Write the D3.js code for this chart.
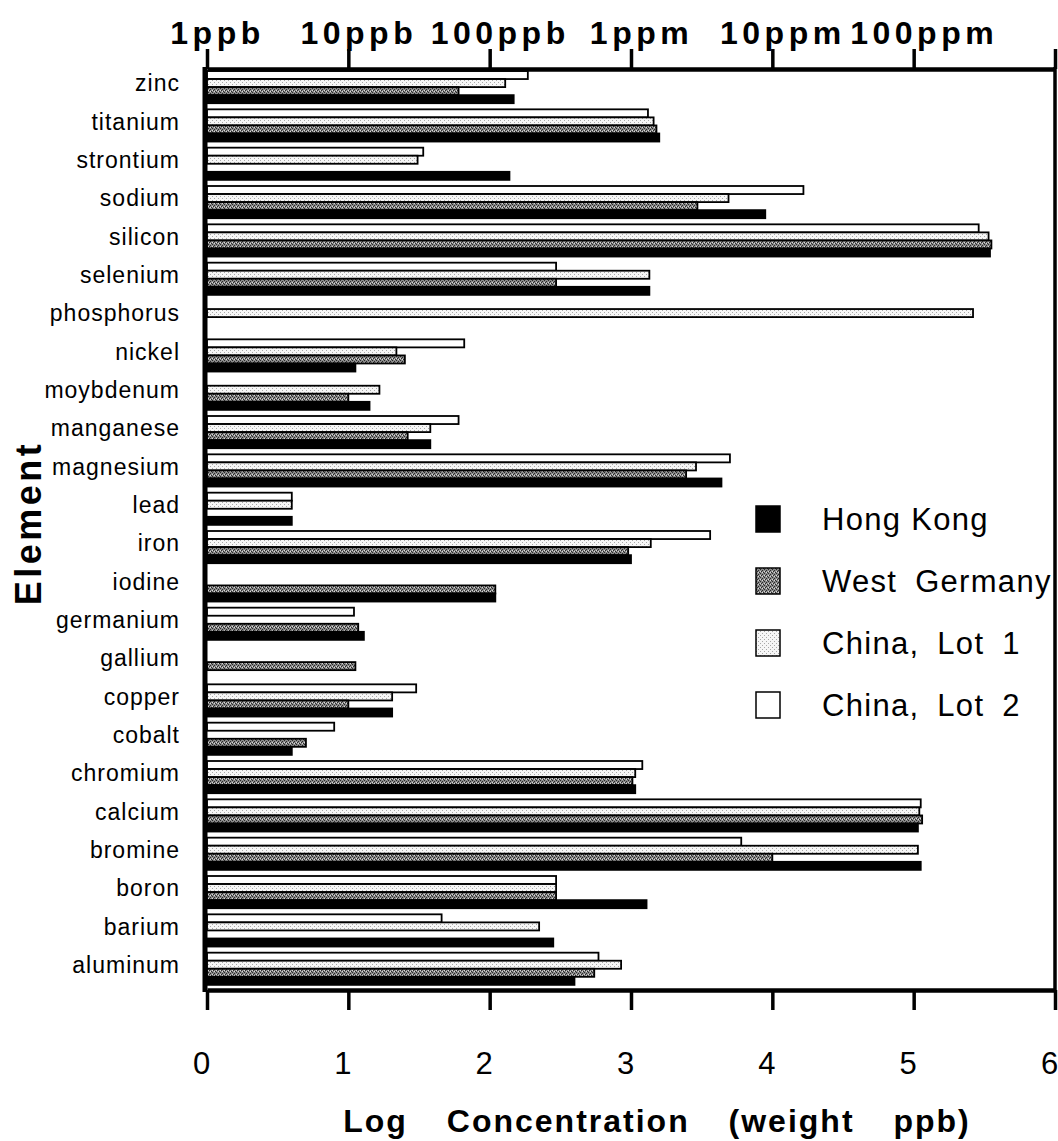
<!DOCTYPE html>
<html>
<head>
<meta charset="utf-8">
<script src="https://cdn.jsdelivr.net/npm/d3@7"></script>
<style>
  html, body { margin: 0; padding: 0; background: #fff; }
  svg { display: block; font-family: "Liberation Sans", Arial, Helvetica, sans-serif; }
</style>
</head>
<body>
<svg id="chart" width="1058" height="1141"></svg>
<script>
// ---------- data (log10 concentration, weight ppb) ----------
const categories = ["zinc","titanium","strontium","sodium","silicon","selenium","phosphorus","nickel","moybdenum","manganese","magnesium","lead","iron","iodine","germanium","gallium","copper","cobalt","chromium","calcium","bromine","boron","barium","aluminum"];

const chinaLot2   = [2.27, 3.12, 1.53, 4.22, 5.46, 2.47, null, 1.82, null, 1.78, 3.70, 0.60, 3.56, null, 1.04, null, 1.48, 0.90, 3.08, 5.05, 3.78, 2.47, 1.66, 2.77];
const chinaLot1   = [2.11, 3.16, 1.49, 3.69, 5.53, 3.13, 5.42, 1.34, 1.22, 1.58, 3.46, 0.60, 3.14, null, null, null, 1.31, null, 3.03, 5.04, 5.03, 2.47, 2.35, 2.93];
const westGermany = [1.78, 3.18, null, 3.47, 5.55, 2.47, null, 1.40, 1.00, 1.42, 3.39, null, 2.98, 2.04, 1.07, 1.05, 1.00, 0.70, 3.01, 5.06, 4.00, 2.47, null, 2.74];
const hongKong    = [2.17, 3.20, 2.14, 3.95, 5.54, 3.13, null, 1.05, 1.15, 1.58, 3.64, 0.60, 3.00, 2.04, 1.11, null, 1.31, 0.60, 3.03, 5.03, 5.05, 3.11, 2.45, 2.60];

const seriesNames   = ["China, Lot 2", "China, Lot 1", "West Germany", "Hong Kong"]; // top-to-bottom within each group
const seriesValues  = [chinaLot2, chinaLot1, westGermany, hongKong];
const legendOrder   = ["Hong Kong", "West Germany", "China, Lot 1", "China, Lot 2"];
const topTickLabels    = ["1ppb", "10ppb", "100ppb", "1ppm", "10ppm", "100ppm", ""];
const bottomTickLabels = ["0", "1", "2", "3", "4", "5", "6"];
const tickValues       = [0, 1, 2, 3, 4, 5, 6];

// ---------- setup ----------
const svg = d3.select("#chart");
const defs = svg.append("defs");

// stipple textures
const pWG = defs.append("pattern").attr("id", "pWG").attr("patternUnits", "userSpaceOnUse")
  .attr("width", 4).attr("height", 4);
pWG.append("rect").attr("width", 4).attr("height", 4).attr("fill", "#8a8a8a");
[[0,0],[2,1],[1,2],[3,3]].forEach(([a,b]) => pWG.append("rect").attr("x", a).attr("y", b).attr("width", 1).attr("height", 1).attr("fill", "#2a2a2a"));
[[2,3],[0,2]].forEach(([a,b]) => pWG.append("rect").attr("x", a).attr("y", b).attr("width", 1).attr("height", 1).attr("fill", "#d8d8d8"));

const pL1 = defs.append("pattern").attr("id", "pL1").attr("patternUnits", "userSpaceOnUse")
  .attr("width", 4).attr("height", 4);
pL1.append("rect").attr("width", 4).attr("height", 4).attr("fill", "#f6f6f6");
[[0,0],[2,2]].forEach(([a,b]) => pL1.append("rect").attr("x", a).attr("y", b).attr("width", 1).attr("height", 1).attr("fill", "#a8a8a8"));

const fills = {
  "China, Lot 2": "#ffffff",
  "China, Lot 1": "url(#pL1)",
  "West Germany": "url(#pWG)",
  "Hong Kong": "#000000"
};

// ---------- scales ----------
const x = d3.scaleLinear().domain([0, 6]).range([207, 1055]);
const yTop = 71, yBottom = 991;
const y = d3.scaleBand().domain(categories).range([yTop, yBottom])
  .paddingInner(0.16).paddingOuter(0.08).align(0);
const ySub = d3.scaleBand().domain(seriesNames).range([0, y.bandwidth()]).padding(0);

// ---------- bars ----------
const rows = [];
categories.forEach((c, i) => {
  seriesNames.forEach((s, j) => {
    const v = seriesValues[j][i];
    if (v != null) rows.push({ cat: c, series: s, value: v });
  });
});

svg.append("g").selectAll("rect")
  .data(rows)
  .join("rect")
  .attr("x", x(0))
  .attr("y", d => y(d.cat) + ySub(d.series))
  .attr("width", d => x(d.value) - x(0))
  .attr("height", ySub.bandwidth())
  .attr("fill", d => fills[d.series])
  .attr("stroke", "#000")
  .attr("stroke-width", 1.8);

// ---------- axes ----------
const frameTop = 69, frameBottom = 990;

const topAxis = d3.axisTop(x).tickValues(tickValues).tickSize(20).tickSizeOuter(0).tickPadding(5)
  .tickFormat((d, i) => topTickLabels[i]);
const gTop = svg.append("g").attr("transform", `translate(0,${frameTop})`).call(topAxis);
gTop.select(".domain").attr("stroke-width", 4.5);
gTop.selectAll(".tick line").attr("stroke-width", 3.5);
gTop.selectAll(".tick text")
  .attr("font-size", 32).attr("font-weight", "bold").attr("letter-spacing", 4.5)
  .attr("dx", 10).attr("fill", "#000");

const bottomAxis = d3.axisBottom(x).tickValues(tickValues).tickSize(20).tickSizeOuter(0).tickPadding(42)
  .tickFormat((d, i) => bottomTickLabels[i]);
const gBot = svg.append("g").attr("transform", `translate(0,${frameBottom})`).call(bottomAxis);
gBot.select(".domain").attr("stroke-width", 4.5);
gBot.selectAll(".tick line").attr("stroke-width", 3.5);
gBot.selectAll(".tick text")
  .attr("font-size", 31).attr("dx", -6).attr("fill", "#000");

// left frame line
svg.append("line").attr("x1", x(0) - 2).attr("x2", x(0) - 2)
  .attr("y1", frameTop - 2).attr("y2", frameBottom + 2)
  .attr("stroke", "#000").attr("stroke-width", 5);

// category axis
const leftAxis = d3.axisLeft(y).tickSize(0).tickPadding(25);
const gLeft = svg.append("g").attr("transform", `translate(${x(0) - 2},-3)`).call(leftAxis);
gLeft.select(".domain").remove();
gLeft.selectAll(".tick text").attr("font-size", 23).attr("letter-spacing", 1).attr("fill", "#000");

// axis titles
svg.append("text")
  .attr("transform", "translate(41,523) rotate(-90)")
  .attr("text-anchor", "middle")
  .attr("font-size", 36).attr("font-weight", "bold").attr("letter-spacing", 3.5)
  .text("Element");

svg.append("text")
  .attr("x", 657).attr("y", 1132)
  .attr("text-anchor", "middle")
  .attr("font-size", 32).attr("font-weight", "bold")
  .attr("letter-spacing", 2).attr("word-spacing", 28)
  .text("Log Concentration (weight ppb)");

// ---------- legend ----------
const legendY = d3.scalePoint().domain(legendOrder).range([519, 705]);
const gLeg = svg.append("g");
const li = gLeg.selectAll("g").data(legendOrder).join("g")
  .attr("transform", d => `translate(0,${legendY(d)})`);
li.append("rect")
  .attr("x", 756).attr("y", -13).attr("width", 24).attr("height", 26)
  .attr("fill", d => fills[d]).attr("stroke", "#000").attr("stroke-width", 1.5);
li.append("text")
  .attr("x", 822).attr("y", 11)
  .attr("font-size", 31).attr("letter-spacing", 1.3)
  .attr("word-spacing", d => d === "Hong Kong" ? 0 : 8)
  .text(d => d);

// right frame line drawn over legend text overflow
svg.append("line").attr("x1", x(6)).attr("x2", x(6))
  .attr("y1", frameTop - 2).attr("y2", frameBottom + 2)
  .attr("stroke", "#000").attr("stroke-width", 3.5);
</script>
</body>
</html>
